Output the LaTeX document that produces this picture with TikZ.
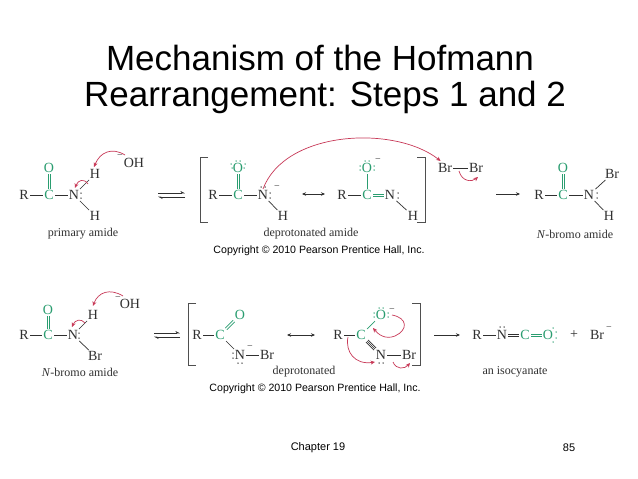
\documentclass[tikz,border=0pt]{standalone}
\usepackage{fontspec}
\setmainfont{Liberation Serif}
\setsansfont{Liberation Sans}
\usetikzlibrary{arrows.meta}
\definecolor{gr}{HTML}{2A9D70}
\definecolor{rd}{HTML}{C83A58}
\definecolor{ink}{HTML}{303030}
\tikzset{
  atom/.style={text=ink,inner sep=1.2pt,font=\fontsize{14}{14}\selectfont},
  gatom/.style={atom,text=gr},
  lab/.style={text=ink,inner sep=0pt,font=\fontsize{12}{12}\selectfont},
  chg/.style={text=ink,inner sep=0pt,font=\fontsize{10}{10}\selectfont},
  bnd/.style={draw=ink,line width=0.7pt},
  gbnd/.style={draw=gr,line width=0.7pt},
  rarr/.style={draw=rd,line width=0.7pt,-{Stealth[length=4.5pt,width=4pt]}},
  rx/.style={draw=ink,line width=0.7pt,-{Stealth[length=4pt,width=3.5pt]}},
  hp/.style={draw=ink,line width=0.6pt,-{Stealth[harpoon,length=4pt,width=4pt]}},
  rev/.style={draw=ink,line width=0.6pt,{Stealth[length=4pt,width=3.5pt]}-{Stealth[length=4pt,width=3.5pt]}},
  brk/.style={draw=ink!85,line width=0.9pt},
  copyr/.style={inner sep=0pt,text=black,font=\sffamily\fontsize{10.6}{11}\selectfont},
  foot/.style={inner sep=0pt,text=black,font=\sffamily\fontsize{11}{12}\selectfont},
  ttl/.style={inner sep=0pt,text=black,font=\sffamily\fontsize{35}{36}\selectfont},
}
\newcommand{\lpd}[3]{\fill[#1] (#2) circle (0.75pt); \fill[#1] (#3) circle (0.75pt);}
% double bond: style, node a, node b, xshift, yshift of each strand
\newcommand{\dbond}[5]{%
  \draw[#1,transform canvas={xshift=#4pt,yshift=#5pt}] (#2)--(#3);
  \draw[#1,transform canvas={xshift=-#4pt,yshift=-#5pt}] (#2)--(#3);}
\begin{document}
\begin{tikzpicture}[x=1pt,y=-1pt]
\useasboundingbox (0,0) rectangle (638,479);
\fill[white] (0,0) rectangle (638,479);
\node[ttl] (t1) at (320,58) {Mechanism of the Hofmann};
\node[ttl] (t2) at (325,97) {Rearrangement: Steps 1 and 2};

% --- primary amide
\node[atom] (a1r) at (24,195) {R};
\node[gatom] (a1c) at (49,195) {C};
\node[atom] (a1n) at (74,195) {N};
\node[gatom] (a1o) at (49,168) {O};
\node[atom] (a1h) at (95,174) {H};
\node[atom] (a1i) at (95,216) {H};
\node[atom] (a1oh) at (134,163) {OH};
\node[chg] (a1m) at (120,157) {−};
\draw[bnd] (a1r)--(a1c); \draw[bnd] (a1c)--(a1n); \dbond{gbnd}{a1c}{a1o}{1.1}{0}
\draw[bnd] (a1n)--(a1h); \draw[bnd] (a1n)--(a1i);
\lpd{ink}{81,193}{81,198}
\draw[rarr] (125,155) .. controls (112,147) and (100,152) .. (94,167);
\draw[rarr] (88,184) .. controls (84,178) and (78,180) .. (75,188);
\node[lab] (l1) at (83,234) {primary amide};
\draw[hp] (158,193)--(185,193);
\draw[hp] (185,197)--(158,197);

% --- deprotonated amide
\draw[brk] (208,157)--(200,157)--(200,222)--(208,222);
\node[atom] (b1r) at (213,195) {R};
\node[gatom] (b1c) at (238,195) {C};
\node[atom] (b1n) at (263,195) {N};
\node[gatom] (b1o) at (238,168) {O};
\node[atom] (b1h) at (283,216) {H};
\node[chg] (b1m) at (277,188) {−};
\draw[bnd] (b1r)--(b1c); \draw[bnd] (b1c)--(b1n); \dbond{gbnd}{b1c}{b1o}{1.1}{0} \draw[bnd] (b1n)--(b1h);
\lpd{ink}{261,187}{265,187} \lpd{ink}{270,193}{270,198}
\lpd{gr}{236,161}{240,161} \lpd{gr}{231,164}{232,168} \lpd{gr}{245,164}{244,168}
\draw[rev] (302,194)--(325,194);
\node[atom] (b2r) at (342,195) {R};
\node[gatom] (b2c) at (367,195) {C};
\node[atom] (b2n) at (390,195) {N};
\node[gatom] (b2o) at (367,168) {O};
\node[atom] (b2h) at (413,216) {H};
\node[chg] (b2m) at (378,161) {−};
\draw[bnd] (b2r)--(b2c); \dbond{gbnd}{b2c}{b2n}{0}{1.1} \draw[gbnd] (b2c)--(b2o); \draw[bnd] (b2n)--(b2h);
\lpd{gr}{365,161}{369,161} \lpd{gr}{360,166}{360,170} \lpd{gr}{374,166}{374,170}
\lpd{ink}{398,193}{398,198}
\draw[brk] (417,222)--(425,222)--(425,157)--(417,157);
\node[lab] (l2) at (311,234) {deprotonated amide};
\node[copyr] (c1) at (319,251) {Copyright © 2010 Pearson Prentice Hall, Inc.};

\node[atom] (br1) at (445,168) {Br};
\node[atom] (br2) at (476,168) {Br};
\draw[bnd] (br1)--(br2);
\draw[rarr] (b1n.north) .. controls (285,130) and (395,125) .. ([xshift=4pt,yshift=1pt]br1.north west);
\draw[rarr] (459,171) .. controls (462,182) and (472,182) .. (478,177);
\draw[rx] (496,194)--(520,194);

% --- N-bromo amide
\node[atom] (d1r) at (539,195) {R};
\node[gatom] (d1c) at (563,195) {C};
\node[atom] (d1n) at (589,195) {N};
\node[gatom] (d1o) at (563,168) {O};
\node[atom] (d1b) at (612,174) {Br};
\node[atom] (d1h) at (609,216) {H};
\draw[bnd] (d1r)--(d1c); \draw[bnd] (d1c)--(d1n); \dbond{gbnd}{d1c}{d1o}{1.1}{0}
\draw[bnd] (d1n)--(d1b); \draw[bnd] (d1n)--(d1h);
\lpd{ink}{597,193}{597,198}
\node[lab] (l3) at (575,234) {\textit{N}-bromo amide};

% --- row 2: N-bromo amide
\node[atom] (e1r) at (24,335) {R};
\node[gatom] (e1c) at (48,335) {C};
\node[atom] (e1n) at (73,335) {N};
\node[gatom] (e1o) at (48,310) {O};
\node[atom] (e1h) at (93,315) {H};
\node[atom] (e1b) at (95,356) {Br};
\node[atom] (e1oh) at (130,304) {OH};
\node[chg] (e1m) at (118,299) {−};
\draw[bnd] (e1r)--(e1c); \draw[bnd] (e1c)--(e1n); \dbond{gbnd}{e1c}{e1o}{1.1}{0}
\draw[bnd] (e1n)--(e1h); \draw[bnd] (e1n)--(e1b);
\lpd{ink}{79,333}{79,338}
\draw[rarr] (123,296) .. controls (110,288) and (98,292) .. (93,306);
\draw[rarr] (85,323) .. controls (81,318) and (75,320) .. (72,327);
\node[lab] (l4) at (80,372) {\textit{N}-bromo amide};
\draw[hp] (154,333)--(180,333);
\draw[hp] (180,337)--(154,337);

% --- deprotonated
\draw[brk] (196,303)--(188,303)--(188,365)--(196,365);
\node[atom] (f1r) at (197,335) {R};
\node[gatom] (f1c) at (220,335) {C};
\node[gatom] (f1o) at (240,315) {O};
\node[atom] (f1n) at (240,355) {N};
\node[atom] (f1b) at (267,355) {Br};
\node[chg] (f1m) at (250,348) {−};
\draw[bnd] (f1r)--(f1c); \dbond{gbnd}{f1c}{f1o}{0.8}{-0.8} \draw[bnd] (f1c)--(f1n); \draw[bnd] (f1n)--(f1b);
\lpd{ink}{233,353}{233,358} \lpd{ink}{238,363}{242,363}
\draw[rev] (287,335)--(315,335);
\node[atom] (f2r) at (338,335) {R};
\node[gatom] (f2c) at (361,335) {C};
\node[gatom] (f2o) at (381,315) {O};
\node[atom] (f2n) at (381,355) {N};
\node[atom] (f2b) at (409,355) {Br};
\node[chg] (f2m) at (392,311) {−};
\draw[bnd] (f2r)--(f2c); \draw[gbnd] (f2c)--(f2o); \draw[bnd] (f2n)--(f2b);
\draw[bnd] (f2c)--(f2n); \dbond{bnd}{f2c}{f2n}{1.1}{1.1}
\lpd{gr}{379,308}{383,308} \lpd{gr}{374,313}{374,317} \lpd{gr}{388,313}{388,317}
\lpd{ink}{379,363}{383,363}
\draw[rarr] (392,315) .. controls (408,318) and (408,330) .. (395,336) .. controls (385,340) and (378,334) .. (373,328);
\draw[rarr] (348,337) .. controls (345,352) and (355,365) .. (375,362);
\draw[rarr] (393,362) .. controls (396,370) and (405,369) .. (410,363);
\draw[brk] (412,365)--(420,365)--(420,303)--(412,303);
\node[lab] (l5) at (304,372) {deprotonated};
\node[copyr] (c2) at (315,389) {Copyright © 2010 Pearson Prentice Hall, Inc.};

\draw[rx] (434,335)--(460,335);

% --- isocyanate
\node[atom] (g1r) at (477,335) {R};
\node[atom] (g1n) at (502,335) {N};
\node[gatom] (g1c) at (525,335) {C};
\node[gatom] (g1o) at (548,335) {O};
\node[atom] (g1p) at (574,335) {+};
\node[atom] (g1b) at (597,335) {Br};
\node[chg] (g1m) at (609,329) {−};
\draw[bnd] (g1r)--(g1n); \dbond{bnd}{g1n}{g1c}{0}{1.1} \dbond{gbnd}{g1c}{g1o}{0}{1.1}
\lpd{ink}{500,327}{504,327}
\lpd{gr}{553,328}{553,342} \lpd{gr}{556,332}{556,338}
\node[lab] (l6) at (515,372) {an isocyanate};

\node[foot] (ch) at (318,448) {Chapter 19};
\node[foot] (pg) at (569,448) {85};
\end{tikzpicture}
\end{document}
